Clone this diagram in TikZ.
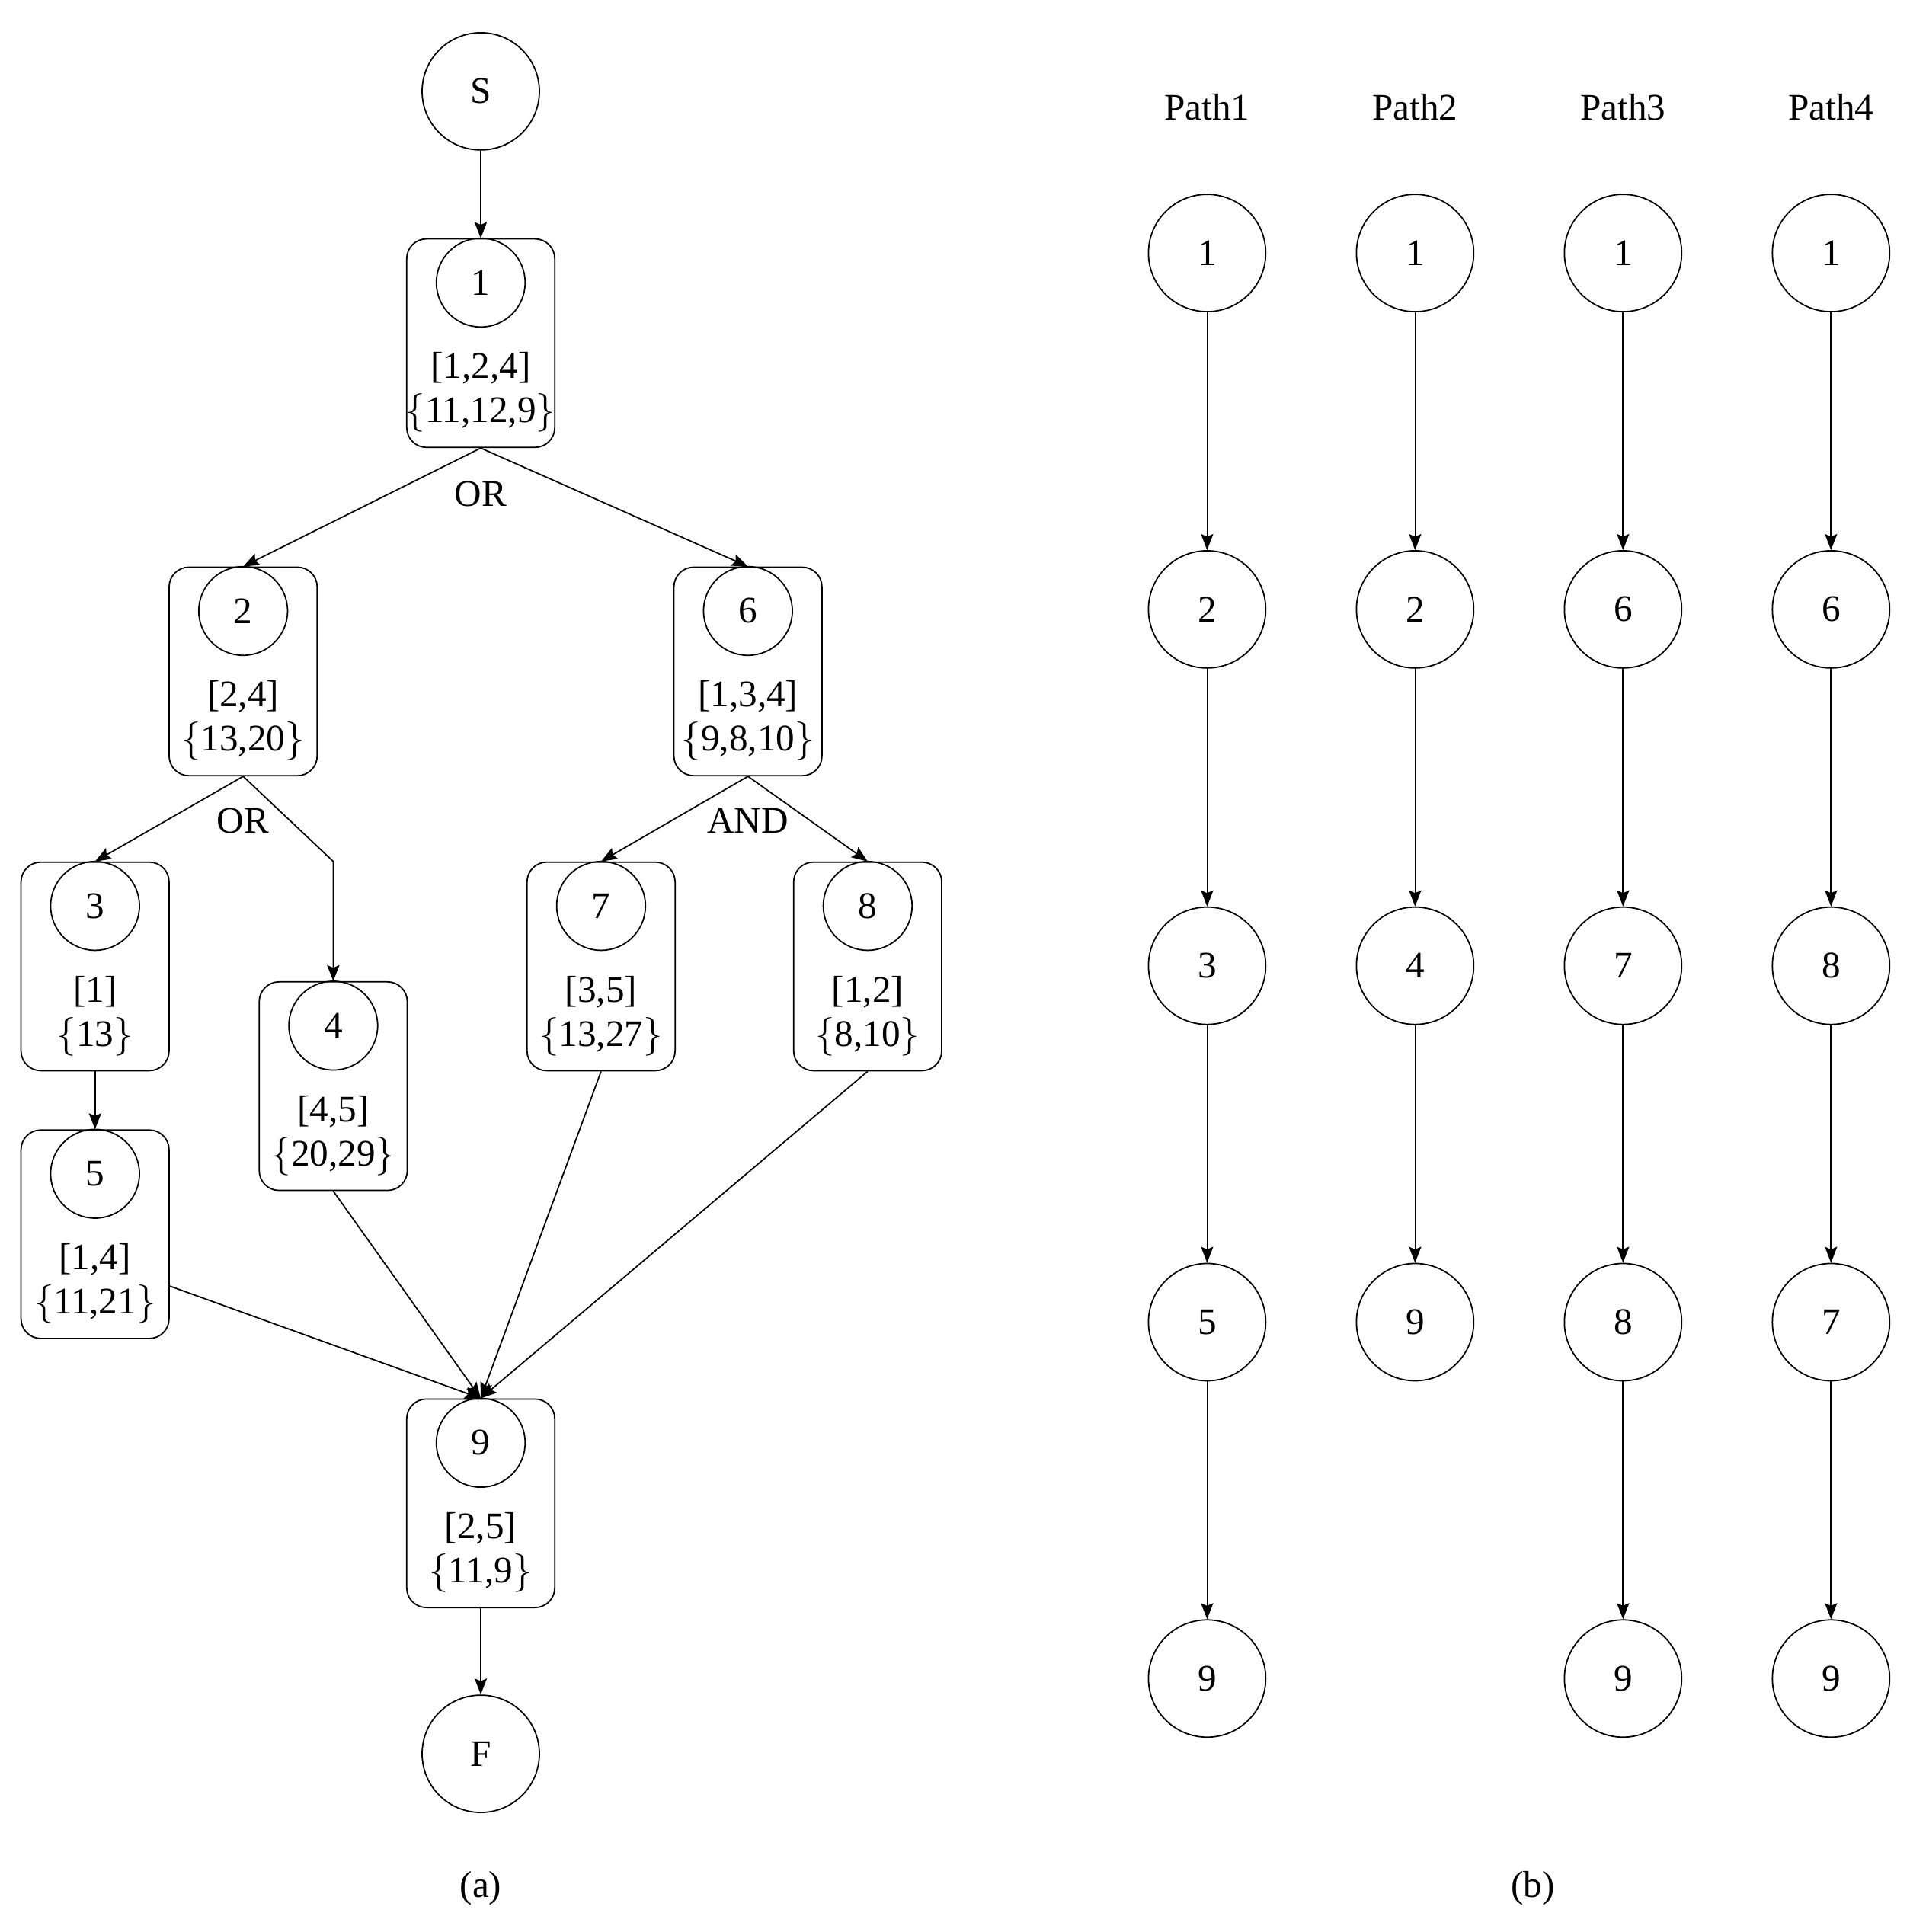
\documentclass[tikz,border=0pt]{standalone}
\usepackage{fontspec}
\setmainfont{Liberation Serif}
\usetikzlibrary{arrows.meta,calc}
\begin{document}
\begin{tikzpicture}[x=0.0162cm,y=-0.0162cm,line width=0.5pt,
  every node/.style={font=\fontsize{14}{16.5}\selectfont},
  box/.style={draw,rounded corners=0.26cm,minimum width=1.944cm,minimum height=2.738cm,inner sep=0pt,anchor=north},
  scirc/.style={draw,circle,minimum size=1.166cm,inner sep=0pt},
  bcirc/.style={draw,circle,minimum size=1.54cm,inner sep=0pt},
  arr/.style={-{Stealth[length=6pt,width=4.6pt,inset=1pt]}}]
\useasboundingbox (0,0) rectangle (1559.9,1565.4);
% ---------- (a) ----------
\node[bcirc] (S) at (389.5,74) {S};
\foreach \n/\x/\y/\a/\b in {1/389.5/193/{[1,2,4]}/{11,12,9},
                            2/197/459/{[2,4]}/{13,20},
                            6/606/459/{[1,3,4]}/{9,8,10},
                            3/77/698/{[1]}/{13},
                            4/270/795/{[4,5]}/{20,29},
                            7/487/698/{[3,5]}/{13,27},
                            8/703/698/{[1,2]}/{8,10},
                            5/77/915/{[1,4]}/{11,21},
                            9/389.5/1133/{[2,5]}/{11,9}}{
  \node[box] (b\n) at (\x,\y) {};
  \node[scirc] (c\n) at ($(b\n.north)+(0,36)$) {\n};
  \node[align=center,inner sep=0pt] (t\n) at ($(b\n.north)+(0,125)$) {\a\\$\{$\b$\}$};
}
\node[bcirc] (F) at (389.5,1421) {F};
\node (or1) at ($(b1.south)+(0,37)$) {OR};
\node (or2) at ($(b2.south)+(0,36)$) {OR};
\node (and1) at ($(b6.south)+(0,36)$) {AND};
\draw[arr] (S.south) -- (b1.north);
\draw[arr] (b1.south) -- (b2.north);
\draw[arr] (b1.south) -- (b6.north);
\draw[arr] (b2.south) -- (b3.north);
\coordinate (k4) at (b4.north |- b3.north);
\draw[arr] (b2.south) -- (k4) -- (b4.north);
\draw[arr] (b6.south) -- (b7.north);
\draw[arr] (b6.south) -- (b8.north);
\draw[arr] (b3.south) -- (b5.north);
\coordinate (k5) at ($(b5.east)+(0,42)$);
\draw[arr] (k5) -- (b9.north);
\draw[arr] (b4.south) -- (b9.north);
\draw[arr] (b7.south) -- (b9.north);
\draw[arr] (b8.south) -- (b9.north);
\draw[arr] (b9.south) -- (F.north);
\node (la) at (389.5,1530) {(a)};
% ---------- (b) ----------
\foreach \c/\x/\l in {1/978/{1,2,3,5,9},2/1146.5/{1,2,4,9},3/1315/{1,6,7,8,9},4/1483.5/{1,6,8,7,9}}{
  \node (h\c) at (\x,87) {Path\c};
  \foreach \v [count=\r] in \l {
    \node[bcirc] (p\c-\r) at (\x,{205+288.75*(\r-1)}) {\v};
  }
}
\foreach \c/\m in {1/4,2/3,3/4,4/4}{
  \foreach \r in {1,...,\m}{
    \pgfmathtruncatemacro{\s}{\r+1}
    \draw[arr] (p\c-\r.south) -- (p\c-\s.north);
  }
}
\node (lb) at (1242,1530) {(b)};
\end{tikzpicture}
\end{document}
